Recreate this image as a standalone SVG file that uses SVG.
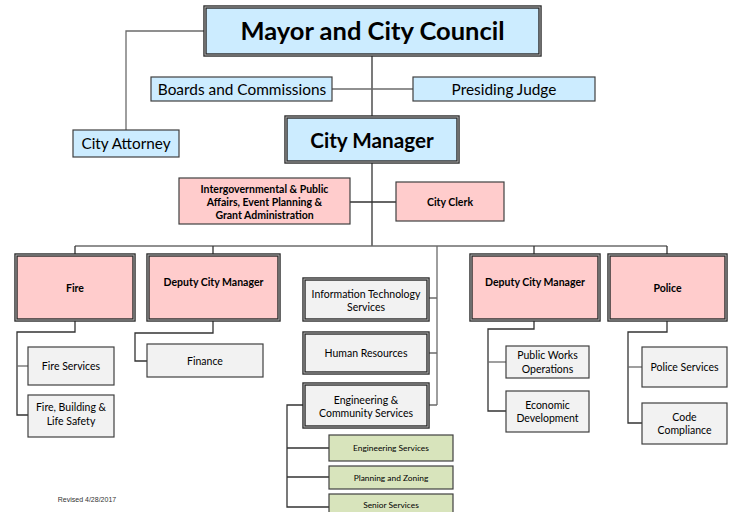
<svg xmlns="http://www.w3.org/2000/svg" width="731" height="512" viewBox="0 0 731 512">
<style>
text{font-family:Lato,"Open Sans","Liberation Sans",sans-serif;fill:#000;text-anchor:middle}
.b{font-weight:bold}
.blue{fill:#CCECFF}
.pink{fill:#FFCCCC}
.gray{fill:#F2F2F2}
.green{fill:#D8E4BC}
.s1{stroke:#404040;stroke-width:1.2}
.d1{stroke:#262626;stroke-width:3.4}
.d2{fill:none;stroke:#b5b5b5;stroke-width:1}
.c{fill:none;stroke:#333;stroke-width:1.3}
.cg{fill:none;stroke:#6b6b6b;stroke-width:1.3}
.f11{font-size:10.5px}
.fg{font-size:8.4px}
.fb{font-size:10.5px;font-weight:bold}
</style>
<rect width="731" height="512" fill="#fff"/>
<g id="connectors">
<path class="cg" d="M205,31 H126 V130"/>
<path class="c" d="M372,55 V117"/>
<path class="cg" d="M332,89 H413"/>
<path class="c" d="M372,162 V246"/>
<path class="c" d="M350,202 H396"/>
<path class="cg" d="M75,246 H667"/>
<path class="c" d="M75,246 V255 M213,246 V255 M534,246 V255 M667,246 V255"/>
<path class="cg" d="M437,246 V405 M428,298 H437 M428,353 H437 M428,405 H437"/>
<path class="c" d="M75,320 V332 H17 V415 H28"/>
<path class="cg" d="M17,366 H28"/>
<path class="c" d="M213,320 V333 H135 V361 H147"/>
<path class="c" d="M304,405 H287 V507 H329 M287,448 H329 M287,477 H329"/>
<path class="c" d="M534,320 V329 H488 V411 H506"/>
<path class="cg" d="M488,362 H506"/>
<path class="c" d="M667,320 V332 H628 V423 H642"/>
<path class="cg" d="M628,367 H642"/>
</g>
<g id="mayor">
<rect class="blue d1" x="205" y="7" width="335" height="48"/>
<rect class="d2" x="205" y="7" width="335" height="48"/>
<text class="b" x="372.5" y="40" font-size="25.5">Mayor and City Council</text>
</g>
<g id="boards">
<rect class="blue s1" x="151" y="77" width="181" height="24"/>
<text x="242" y="94.5" font-size="15.4">Boards and Commissions</text>
</g>
<g id="judge">
<rect class="blue s1" x="413" y="77" width="182" height="24"/>
<text x="504" y="94.5" font-size="15.4">Presiding Judge</text>
</g>
<g id="attorney">
<rect class="blue s1" x="73" y="130" width="106" height="27"/>
<text x="126" y="148.5" font-size="15.3">City Attorney</text>
</g>
<g id="manager">
<rect class="blue d1" x="286" y="117" width="172" height="45"/>
<rect class="d2" x="286" y="117" width="172" height="45"/>
<text class="b" x="372" y="147.5" font-size="20.7">City Manager</text>
</g>
<g id="intergov">
<rect class="pink s1" x="179" y="178" width="171" height="46"/>
<text class="fb" x="264.5" y="192.5">Intergovernmental &amp; Public</text>
<text class="fb" x="264.5" y="206">Affairs, Event Planning &amp;</text>
<text class="fb" x="264.5" y="219">Grant Administration</text>
</g>
<g id="clerk">
<rect class="pink s1" x="396" y="182" width="108" height="39"/>
<text class="fb" x="450" y="205.5">City Clerk</text>
</g>
<g id="fire">
<rect class="pink d1" x="16" y="255" width="118" height="65"/>
<rect class="d2" x="16" y="255" width="118" height="65"/>
<text class="fb" x="75" y="291.5">Fire</text>
</g>
<g id="dcm-left">
<rect class="pink d1" x="148" y="255" width="131" height="65"/>
<rect class="d2" x="148" y="255" width="131" height="65"/>
<text class="fb" x="213.5" y="285.5">Deputy City Manager</text>
</g>
<g id="it">
<rect class="gray d1" x="304" y="279" width="124" height="41"/>
<rect class="d2" x="304" y="279" width="124" height="41"/>
<text class="f11" x="366" y="298">Information Technology</text>
<text class="f11" x="366" y="311">Services</text>
</g>
<g id="hr">
<rect class="gray d1" x="304" y="333" width="124" height="40"/>
<rect class="d2" x="304" y="333" width="124" height="40"/>
<text class="f11" x="366" y="357">Human Resources</text>
</g>
<g id="eng">
<rect class="gray d1" x="304" y="384" width="124" height="43"/>
<rect class="d2" x="304" y="384" width="124" height="43"/>
<text class="f11" x="366" y="404">Engineering &amp;</text>
<text class="f11" x="366" y="417">Community Services</text>
</g>
<g id="dcm-right">
<rect class="pink d1" x="471" y="255" width="128" height="65"/>
<rect class="d2" x="471" y="255" width="128" height="65"/>
<text class="fb" x="535" y="285.5">Deputy City Manager</text>
</g>
<g id="police">
<rect class="pink d1" x="609" y="255" width="117" height="65"/>
<rect class="d2" x="609" y="255" width="117" height="65"/>
<text class="fb" x="667.5" y="291.5">Police</text>
</g>
<g id="fire-services">
<rect class="gray s1" x="28" y="347" width="86" height="38"/>
<text class="f11" x="71" y="370">Fire Services</text>
</g>
<g id="fire-building">
<rect class="gray s1" x="28" y="395" width="86" height="42"/>
<text class="f11" x="71" y="411">Fire, Building &amp;</text>
<text class="f11" x="71" y="425">Life Safety</text>
</g>
<g id="finance">
<rect class="gray s1" x="147" y="344" width="116" height="33"/>
<text class="f11" x="205" y="364.5">Finance</text>
</g>
<g id="eng-services">
<rect class="green s1" x="329" y="435" width="124" height="26"/>
<text class="fg" x="391" y="451">Engineering Services</text>
</g>
<g id="planning">
<rect class="green s1" x="329" y="466" width="124" height="23"/>
<text class="fg" x="391" y="480.5">Planning and Zoning</text>
</g>
<g id="senior">
<rect class="green s1" x="329" y="494" width="124" height="26"/>
<text class="fg" x="391" y="508">Senior Services</text>
</g>
<g id="public-works">
<rect class="gray s1" x="506" y="346" width="83" height="32"/>
<text class="f11" x="547.5" y="359">Public Works</text>
<text class="f11" x="547.5" y="373">Operations</text>
</g>
<g id="economic">
<rect class="gray s1" x="506" y="391" width="83" height="41"/>
<text class="f11" x="547.5" y="409">Economic</text>
<text class="f11" x="547.5" y="422">Development</text>
</g>
<g id="police-services">
<rect class="gray s1" x="642" y="347" width="85" height="40"/>
<text class="f11" x="684.5" y="371">Police Services</text>
</g>
<g id="code">
<rect class="gray s1" x="642" y="403" width="85" height="41"/>
<text class="f11" x="684.5" y="421">Code</text>
<text class="f11" x="684.5" y="434">Compliance</text>
</g>
<text x="87" y="502" font-size="7" style="font-family:'Liberation Sans',Arial,sans-serif;fill:#333">Revised 4/28/2017</text>
</svg>
